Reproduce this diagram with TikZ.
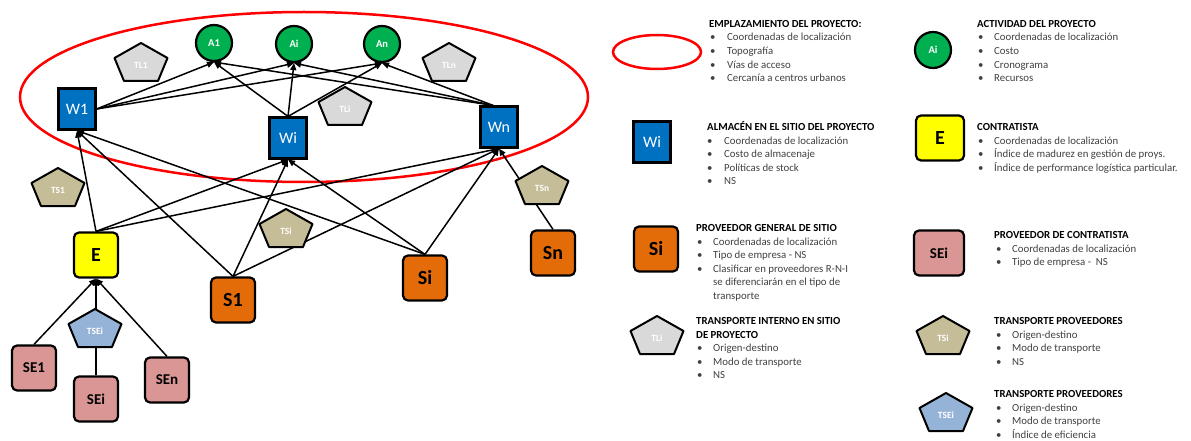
\documentclass[tikz,border=0pt]{standalone}
\usepackage{fontspec}
\setmainfont{Carlito}
\usetikzlibrary{arrows.meta,calc}
\pgfdeclarelayer{back}
\pgfsetlayers{back,main}

\definecolor{wblue}{HTML}{0070C0}
\definecolor{agreen}{HTML}{00B050}
\definecolor{eyellow}{HTML}{FFFF00}
\definecolor{sorange}{HTML}{E36C09}
\definecolor{sepink}{HTML}{D99694}
\definecolor{tlgray}{HTML}{D9D9D9}
\definecolor{tstan}{HTML}{C4BD97}
\definecolor{tseblue}{HTML}{95B3D7}
\definecolor{itemgray}{HTML}{404040}

% pentagon symbol: name, centre, fill, label
\newcommand\pentshape[4]{%
  \begin{scope}[shift={(#2)}]
    \draw[pentline, fill=#3] (0,-19) -- (26.5,-4) -- (17,19) -- (-17,19) -- (-26.5,-4) -- cycle;
    \node[pentlabel] (#1) at (0,3) {#4};
  \end{scope}}

% bulleted legend line: name, bullet x, text x, baseline y, text
\newcommand\legline[5]{%
  \node[legtext] (#1b) at (#2,#4) {•};
  \node[legtext] (#1) at (#3,#4) {#5};}

\begin{document}
\begin{tikzpicture}[x=1pt,y=-1pt,
  whbox/.style={draw, line width=2.2pt, fill=wblue, text=white, minimum width=37pt, minimum height=41pt, inner sep=0pt, font=\fontsize{16}{18}\selectfont},
  actnode/.style={circle, draw, line width=2.2pt, fill=agreen, text=white, minimum size=36pt, inner sep=0pt, font=\bfseries\fontsize{10.5}{12}\selectfont},
  rbox/.style={draw, line width=2.2pt, rounded corners=5pt, minimum width=44pt, minimum height=45pt, inner sep=0pt},
  ctrbox/.style={rbox, fill=eyellow, font=\bfseries\fontsize{20}{22}\selectfont},
  supbox/.style={rbox, fill=sorange, font=\bfseries\fontsize{20}{22}\selectfont},
  sebox/.style={rbox, fill=sepink, font=\bfseries\fontsize{15}{17}\selectfont},
  pentline/.style={draw, line width=2pt, line join=round},
  pentlabel/.style={text=white, inner sep=0pt, font=\bfseries\fontsize{9.5}{11}\selectfont},
  link/.style={line width=1.5pt, -{Triangle[length=7pt,width=6pt]}},
  siteline/.style={draw=red, line width=2.5pt},
  leghead/.style={anchor=base west, inner sep=0pt, font=\bfseries\fontsize{10.8}{13}\selectfont},
  legtext/.style={anchor=base west, inner sep=0pt, text=itemgray, font=\fontsize{10.8}{13}\selectfont}]
\useasboundingbox (0,0) rectangle (1191,441);

% project site
\begin{pgfonlayer}{back}
  \draw[siteline] (304,97) ellipse [x radius=284, y radius=85];
\end{pgfonlayer}

% activities
\node[actnode] (A1) at (214,43) {A1};
\node[actnode] (Ai) at (294,44) {Ai};
\node[actnode] (An) at (382,44) {An};
% warehouses
\node[whbox] (W1) at (77,109) {W1};
\node[whbox] (Wi) at (288,138) {Wi};
\node[whbox] (Wn) at (499,127) {Wn};
% contractor and suppliers
\node[ctrbox] (E) at (96,255) {E};
\node[supbox] (S1) at (233,300) {S1};
\node[supbox] (Si) at (425,278) {Si};
\node[supbox] (Sn) at (553,253) {Sn};
\node[sebox] (SE1) at (34,368) {SE1};
\node[sebox] (SEi) at (96,399) {SEi};
\node[sebox] (SEn) at (167,380) {SEn};

% flows
\begin{pgfonlayer}{back}
  \foreach \a in {A1,Ai,An} {
    \draw[link] (W1.east) -- (\a.south);
    \draw[link] (Wi.north) -- (\a.south);
    \draw[link] ($(Wn.north)+(-6,0)$) -- (\a.south);
  }
  \foreach \s in {E,S1,Si}
    \foreach \w in {W1,Wi,Wn}
      \draw[link] (\s.north) -- (\w.south);
  \draw[link] (Sn.north) -- (Wn.south);
  \foreach \s in {SE1,SEi,SEn}
    \draw[link] (\s.north) -- (E.south);
\end{pgfonlayer}

% transport symbols
\pentshape{TL1}{141,62}{tlgray}{TL1}
\pentshape{TLn}{449,62}{tlgray}{TLn}
\pentshape{TLi}{345,106}{tlgray}{TLi}
\pentshape{TS1}{58,187}{tstan}{TS1}
\pentshape{TSn}{542,185}{tstan}{TSn}
\pentshape{TSi}{286,228}{tstan}{TSi}
\pentshape{TSEi}{95,328}{tseblue}{TSEi}

% ---- legend ----
\draw[siteline] (657,52) ellipse [x radius=44, y radius=17];
\node[leghead] (hEmp) at (709,27.5) {EMPLAZAMIENTO DEL PROYECTO:};
\legline{emp1}{710}{727}{41}{Coordenadas de localización}
\legline{emp2}{710}{727}{54.6}{Topografía}
\legline{emp3}{710}{727}{68.2}{Vías de acceso}
\legline{emp4}{710}{727}{81.8}{Cercanía a centros urbanos}

\node[whbox] (legW) at (652,142) {Wi};
\node[leghead] (hAlm) at (707,130.5) {ALMACÉN EN EL SITIO DEL PROYECTO};
\legline{alm1}{707}{724}{144}{Coordenadas de localización}
\legline{alm2}{707}{724}{157.6}{Costo de almacenaje}
\legline{alm3}{707}{724}{171.2}{Políticas de stock}
\legline{alm4}{707}{724}{184.8}{NS}

\node[actnode] (legA) at (933,50) {Ai};
\node[leghead] (hAct) at (977,27.5) {ACTIVIDAD DEL PROYECTO};
\legline{act1}{978}{994}{41}{Coordenadas de localización}
\legline{act2}{978}{994}{54.6}{Costo}
\legline{act3}{978}{994}{68.2}{Cronograma}
\legline{act4}{978}{994}{81.8}{Recursos}

\node[ctrbox, minimum width=48pt] (legE) at (940,138) {E};
\node[leghead] (hCon) at (977,130.5) {CONTRATISTA};
\legline{con1}{978}{994}{144}{Coordenadas de localización}
\legline{con2}{978}{994}{157.6}{Índice de madurez en gestión de proys.}
\legline{con3}{978}{994}{171.2}{Índice de performance logística particular.}

\node[supbox] (legS) at (656,249) {Si};
\node[leghead] (hPgs) at (696,231.5) {PROVEEDOR GENERAL DE SITIO};
\legline{pgs1}{697}{713}{245}{Coordenadas de localización}
\legline{pgs2}{697}{713}{258.6}{Tipo de empresa - NS}
\legline{pgs3}{697}{713}{272.2}{Clasificar en proveedores R-N-I}
\node[legtext] (pgs4) at (713,285.8) {se diferenciarán en el tipo de};
\node[legtext] (pgs5) at (713,299.4) {transporte};

\pentshape{legTL}{657,335}{tlgray}{TLi}
\node[leghead] (hTis) at (696,324.5) {TRANSPORTE INTERNO EN SITIO};
\node[leghead] (hTis2) at (696,338) {DE PROYECTO};
\legline{tis1}{697}{713}{351.6}{Origen-destino}
\legline{tis2}{697}{713}{365.2}{Modo de transporte}
\legline{tis3}{697}{713}{378.8}{NS}

\node[sebox, minimum width=50pt] (legSE) at (939,253) {SEi};
\node[leghead] (hPdc) at (994,238.5) {PROVEEDOR DE CONTRATISTA};
\legline{pdc1}{996}{1012}{252}{Coordenadas de localización}
\legline{pdc2}{996}{1012}{265.6}{Tipo de empresa -\ \ NS}

\pentshape{legTS}{943,335}{tstan}{TSi}
\node[leghead] (hTp) at (994,324.5) {TRANSPORTE PROVEEDORES};
\legline{tp1}{996}{1012}{338}{Origen-destino}
\legline{tp2}{996}{1012}{351.6}{Modo de transporte}
\legline{tp3}{996}{1012}{365.2}{NS}

\pentshape{legTSE}{946,412}{tseblue}{TSEi}
\node[leghead] (hTpe) at (994,397.5) {TRANSPORTE PROVEEDORES};
\legline{tpe1}{996}{1012}{411}{Origen-destino}
\legline{tpe2}{996}{1012}{424.6}{Modo de transporte}
\legline{tpe3}{996}{1012}{438.2}{Índice de eficiencia}
\end{tikzpicture}
\end{document}
